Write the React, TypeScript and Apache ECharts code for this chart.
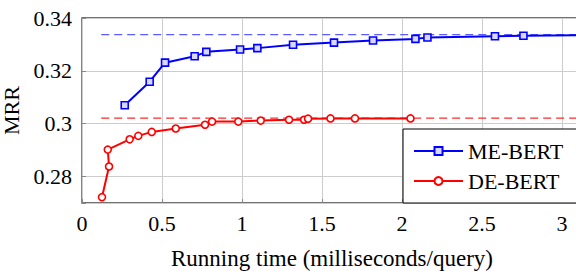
import React, { useEffect, useRef } from "react";
import * as echarts from "echarts";

const meBert: [number, number][] = [
  [0.267, 0.307], [0.423, 0.3159], [0.519, 0.3231], [0.704, 0.3255], [0.777, 0.3272],
  [0.988, 0.3281], [1.096, 0.3286], [1.319, 0.3299], [1.575, 0.3307], [1.819, 0.3315],
  [2.084, 0.3321], [2.159, 0.3326], [2.581, 0.3331], [2.759, 0.3333], [3.4, 0.3337],
];
const deBert: [number, number][] = [
  [0.125, 0.2722], [0.169, 0.2838], [0.161, 0.2902], [0.298, 0.2941], [0.352, 0.2954],
  [0.436, 0.2969], [0.586, 0.2982], [0.769, 0.2996], [0.813, 0.3008], [0.977, 0.3008],
  [1.117, 0.3012], [1.294, 0.3015], [1.388, 0.3015], [1.413, 0.3019], [1.553, 0.302],
  [1.706, 0.302], [2.053, 0.302],
];
const meBertRef: [number, number][] = [[0.12, 0.3337], [3.4, 0.3337]];
const deBertRef: [number, number][] = [[0.12, 0.3021], [3.4, 0.3021]];
const yTickLabels = [0.28, 0.3, 0.32, 0.34];
const seriesNames = ["ME-BERT", "DE-BERT"];

const FONT = "serif";

export default function App() {
  const ref = useRef<HTMLDivElement>(null);
  useEffect(() => {
    if (!ref.current) return;
    const chart = echarts.init(ref.current, undefined, { renderer: "svg" });
    chart.setOption({
      animation: false,
      backgroundColor: "#fff",
      textStyle: { fontFamily: FONT, fontSize: 22, color: "#000" },
      grid: {
        left: 82,
        top: 18,
        right: 38,
        bottom: 68,
        show: true,
        containLabel: false,
        outerBoundsMode: "none",
        borderColor: "#444",
        borderWidth: 1.3,
        backgroundColor: "transparent",
      },
      legend: {
        orient: "vertical",
        left: 403,
        top: 129,
        data: seriesNames,
        padding: [10, 30, 10, 10],
        itemGap: 6,
        itemWidth: 49,
        itemHeight: 10,
        borderColor: "#000",
        borderWidth: 1,
        backgroundColor: "#fff",
        textStyle: { fontFamily: FONT, fontSize: 22, color: "#000", lineHeight: 24 },
      },
      xAxis: {
        type: "value",
        min: 0,
        max: 3.125,
        interval: 0.5,
        name: "Running time (milliseconds/query)",
        nameLocation: "middle",
        nameGap: 44,
        nameTextStyle: { fontFamily: FONT, fontSize: 23, color: "#000" },
        axisLine: { show: false },
        axisTick: { show: true, inside: true, length: 4, lineStyle: { color: "#888" } },
        axisLabel: {
          showMaxLabel: false,
          margin: 9,
          fontFamily: FONT,
          fontSize: 22,
          color: "#000",
          formatter: (v: number) => String(Number(v.toFixed(2))),
        },
        splitLine: { show: true, lineStyle: { color: "#cccccc", width: 1 } },
      },
      yAxis: {
        type: "value",
        min: 0.27,
        max: 0.34,
        splitNumber: 3,
        name: "MRR",
        nameLocation: "middle",
        nameGap: 43,
        nameTextStyle: { fontFamily: FONT, fontSize: 22, color: "#000" },
        axisLine: { show: false },
        axisTick: { show: true, inside: true, length: 4, lineStyle: { color: "#888" } },
        axisLabel: {
          margin: 10,
          fontFamily: FONT,
          fontSize: 22,
          color: "#000",
          formatter: (v: number) => {
            const r = Number(v.toFixed(2));
            return yTickLabels.some((t) => Math.abs(t - r) < 1e-9) ? String(r) : "";
          },
        },
        splitLine: { show: true, lineStyle: { color: "#cccccc", width: 1 } },
      },
      series: [
        {
          name: "ME-BERT-ref",
          type: "line",
          data: meBertRef,
          symbol: "none",
          silent: true,
          lineStyle: { color: "#5c5cff", width: 1.4, type: [8, 5] },
          z: 1,
        },
        {
          name: "DE-BERT-ref",
          type: "line",
          data: deBertRef,
          symbol: "none",
          silent: true,
          lineStyle: { color: "#ff2a2a", width: 1.2, type: [8, 5] },
          z: 1,
        },
        {
          name: seriesNames[0],
          type: "line",
          data: meBert,
          symbol: "rect",
          symbolSize: 7,
          showAllSymbol: true,
          itemStyle: { color: "#d8d8ff", borderColor: "#0000ff", borderWidth: 1.6 },
          lineStyle: { color: "#0000ff", width: 2 },
          z: 3,
        },
        {
          name: seriesNames[1],
          type: "line",
          data: deBert,
          symbol: "circle",
          symbolSize: 7,
          showAllSymbol: true,
          itemStyle: { color: "#ffffff", borderColor: "#ff0000", borderWidth: 1.6 },
          lineStyle: { color: "#ff0000", width: 2 },
          z: 3,
        },
      ],
    });
    return () => chart.dispose();
  }, []);
  return (
    <div style={{ position: "fixed", left: 0, top: 0, width: 576, height: 271, overflow: "hidden", background: "#fff" }}>
      <div ref={ref} style={{ width: 620, height: 271 }} />
    </div>
  );
}
